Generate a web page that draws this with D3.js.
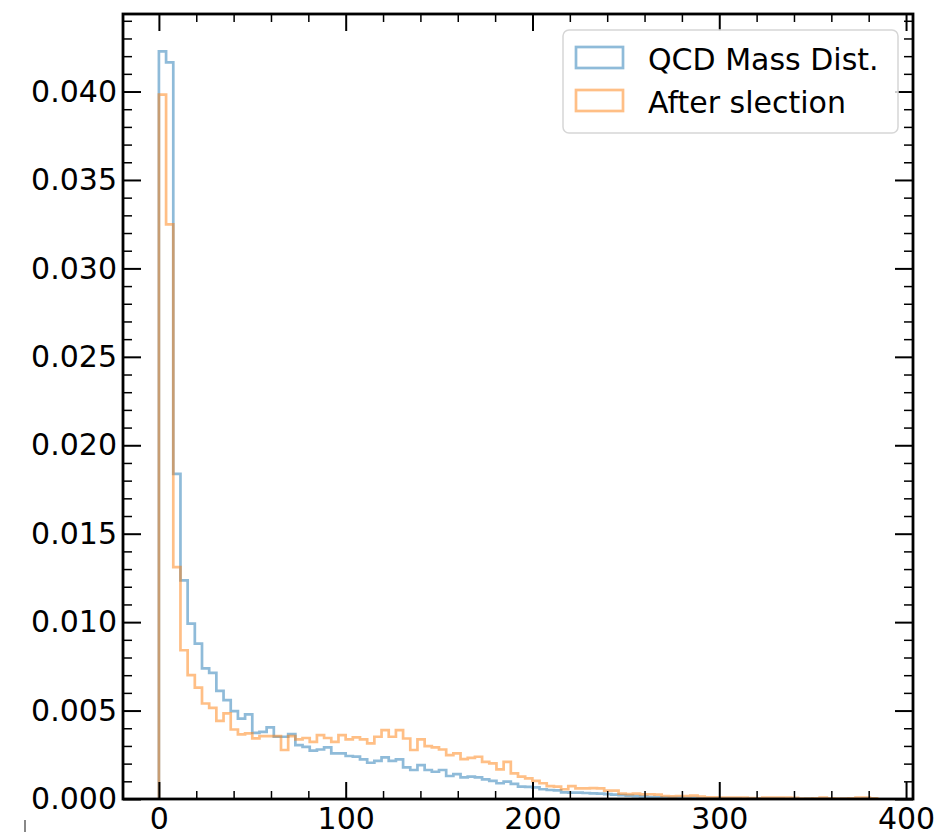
<!DOCTYPE html>
<html>
<head>
<meta charset="utf-8">
<script src="https://cdn.jsdelivr.net/npm/d3@7"></script>
<style>
  body { margin: 0; background: #fff; }
  svg { display: block; }
  text { font-family: "DejaVu Sans", sans-serif; }
</style>
</head>
<body>
<svg id="chart" width="943" height="832"></svg>
<script>
// histogram binning (100 bins over the mass range)
const massRange = [0, 384.5];
const nBins = 100;

const seriesNames = ["QCD Mass Dist.", "After slection"];
const seriesColors = ["#1f77b4", "#ff7f0e"];

// density per bin
const qcdMass = [
  0.04227, 0.04165, 0.01838, 0.01236, 0.00991, 0.00879, 0.00738, 0.00713, 0.00611, 0.00559,
  0.00497, 0.00455, 0.00478, 0.00374, 0.00380, 0.00405, 0.00352, 0.00352, 0.00367, 0.00305,
  0.00295, 0.00273, 0.00280, 0.00292, 0.00258, 0.00258, 0.00243, 0.00240, 0.00224, 0.00205,
  0.00216, 0.00235, 0.00216, 0.00224, 0.00179, 0.00164, 0.00192, 0.00164, 0.00154, 0.00164,
  0.00130, 0.00141, 0.00122, 0.00126, 0.00122, 0.00111, 0.00103, 0.00089, 0.00098, 0.00085,
  0.00070, 0.00068, 0.00066, 0.00055, 0.00051, 0.00049, 0.00038, 0.00036, 0.00036, 0.00034,
  0.00032, 0.00030, 0.00028, 0.00025, 0.00022, 0.00019, 0.00016, 0.00013, 0.00011, 0.00009,
  0.00008, 0.00007, 0.00006, 0.00005, 0.00005, 0.00004, 0.00003, 0.00003, 0.00002, 0.00002,
  0.00002, 0.00001, 0.00002, 0.00001, 0.00001, 0.00001, 0.00001, 0.00000, 0.00001, 0.00000,
  0.00001, 0.00000, 0.00001, 0.00000, 0.00000, 0.00001, 0.00000, 0.00000, 0.00001, 0.00000
];

const afterSel = [
  0.03982, 0.03249, 0.01311, 0.00841, 0.00700, 0.00630, 0.00540, 0.00515, 0.00442, 0.00484,
  0.00393, 0.00365, 0.00371, 0.00343, 0.00356, 0.00356, 0.00356, 0.00277, 0.00356, 0.00337,
  0.00345, 0.00323, 0.00361, 0.00345, 0.00323, 0.00361, 0.00337, 0.00348, 0.00337, 0.00314,
  0.00352, 0.00389, 0.00352, 0.00389, 0.00342, 0.00277, 0.00337, 0.00299, 0.00292, 0.00280,
  0.00248, 0.00258, 0.00226, 0.00233, 0.00239, 0.00210, 0.00201, 0.00168, 0.00210, 0.00145,
  0.00126, 0.00117, 0.00103, 0.00089, 0.00073, 0.00070, 0.00055, 0.00073, 0.00060, 0.00060,
  0.00062, 0.00060, 0.00047, 0.00047, 0.00030, 0.00028, 0.00030, 0.00026, 0.00027, 0.00025,
  0.00017, 0.00015, 0.00017, 0.00016, 0.00019, 0.00014, 0.00010, 0.00010, 0.00008, 0.00008,
  0.00008, 0.00008, 0.00005, 0.00003, 0.00008, 0.00008, 0.00008, 0.00008, 0.00006, 0.00002,
  0.00002, 0.00003, 0.00008, 0.00003, 0.00002, 0.00002, 0.00003, 0.00008, 0.00008, 0.00004
];

const xMajorTicks = [0, 100, 200, 300, 400];
const yMajorTicks = [0, 0.005, 0.010, 0.015, 0.020, 0.025, 0.030, 0.035, 0.040];

const width = 943, height = 832;
const margin = { top: 14, right: 30, bottom: 33, left: 123 };
const innerW = width - margin.left - margin.right;
const innerH = height - margin.top - margin.bottom;

const svg = d3.select("#chart");
const g = svg.append("g").attr("transform", `translate(${margin.left},${margin.top})`);

const binW = (massRange[1] - massRange[0]) / nBins;
const edges = d3.range(nBins + 1).map(i => massRange[0] + i * binW);
const span = massRange[1] - massRange[0];

const allVals = qcdMass.concat(afterSel);

const x = d3.scaleLinear()
  .domain([massRange[0] - 0.05 * span, massRange[1] + 0.05 * span])
  .range([0, innerW]);

const y = d3.scaleLinear()
  .domain([0, d3.max(allVals) * 1.05])
  .range([innerH, 0]);

g.append("clipPath").attr("id", "clip")
  .append("rect").attr("width", innerW).attr("height", innerH);

const step = d3.line()
  .x(d => x(d[0]))
  .y(d => y(d[1]))
  .curve(d3.curveStepAfter);

function stepPoints(vals) {
  const pts = [[edges[0], 0]];
  vals.forEach((v, i) => pts.push([edges[i], v]));
  pts.push([edges[nBins], 0]);
  return pts;
}

[qcdMass, afterSel].forEach((vals, i) => {
  g.append("path")
    .datum(stepPoints(vals))
    .attr("clip-path", "url(#clip)")
    .attr("fill", "none")
    .attr("stroke", seriesColors[i])
    .attr("stroke-opacity", 0.5)
    .attr("stroke-width", 2.7)
    .attr("d", step);
});

// ticks, all pointing inwards on all four sides
const xMinor = d3.range(-20, 404, 20).filter(v => v % 100 !== 0 && v >= x.domain()[0]);
const yMinor = d3.range(0, 45).map(v => v / 1000).filter(v => v % 0.005 > 1e-9 && 0.005 - (v % 0.005) > 1e-9);

function styleAxis(sel, w) {
  sel.select(".domain").remove();
  sel.selectAll("line").attr("stroke", "#000").attr("stroke-width", w);
  sel.selectAll("text").attr("font-size", 30).attr("fill", "#000");
}

g.append("g").attr("transform", `translate(0,${innerH})`)
  .call(d3.axisBottom(x).tickValues(xMinor).tickSizeInner(-8).tickSizeOuter(0).tickFormat(""))
  .call(s => styleAxis(s, 1.5));
g.append("g").attr("transform", `translate(0,${innerH})`)
  .call(d3.axisBottom(x).tickValues(xMajorTicks).tickSizeInner(-17).tickSizeOuter(0).tickPadding(9).tickFormat(d3.format("d")))
  .call(s => styleAxis(s, 2));
g.append("g")
  .call(d3.axisTop(x).tickValues(xMinor).tickSizeInner(-8).tickSizeOuter(0).tickFormat(""))
  .call(s => styleAxis(s, 1.5));
g.append("g")
  .call(d3.axisTop(x).tickValues(xMajorTicks).tickSizeInner(-17).tickSizeOuter(0).tickFormat(""))
  .call(s => styleAxis(s, 2));

g.append("g")
  .call(d3.axisLeft(y).tickValues(yMinor).tickSizeInner(-9).tickSizeOuter(0).tickFormat(""))
  .call(s => styleAxis(s, 1.5));
g.append("g")
  .call(d3.axisLeft(y).tickValues(yMajorTicks).tickSizeInner(-18).tickSizeOuter(0).tickPadding(6).tickFormat(d3.format(".3f")))
  .call(s => styleAxis(s, 2));
g.append("g").attr("transform", `translate(${innerW},0)`)
  .call(d3.axisRight(y).tickValues(yMinor).tickSizeInner(-9).tickSizeOuter(0).tickFormat(""))
  .call(s => styleAxis(s, 1.5));
g.append("g").attr("transform", `translate(${innerW},0)`)
  .call(d3.axisRight(y).tickValues(yMajorTicks).tickSizeInner(-18).tickSizeOuter(0).tickFormat(""))
  .call(s => styleAxis(s, 2));

// frame
g.append("rect")
  .attr("width", innerW).attr("height", innerH)
  .attr("fill", "none").attr("stroke", "#000").attr("stroke-width", 2.8);

// legend
const legend = g.append("g").attr("transform", `translate(${563 - margin.left},${30 - margin.top})`);
legend.append("rect")
  .attr("width", 335).attr("height", 103).attr("rx", 6)
  .attr("fill", "#fff").attr("fill-opacity", 0.8)
  .attr("stroke", "#d6d6d6").attr("stroke-width", 1.5);

seriesNames.forEach((name, i) => {
  const row = legend.append("g").attr("transform", `translate(0,${i * 43})`);
  row.append("rect")
    .attr("x", 13).attr("y", 17).attr("width", 47).attr("height", 21)
    .attr("fill", "none")
    .attr("stroke", seriesColors[i]).attr("stroke-opacity", 0.5).attr("stroke-width", 2.7);
  row.append("text")
    .attr("x", 85).attr("y", 39.5)
    .attr("font-size", 30).attr("fill", "#000")
    .text(name);
});

// cropped fragment at the bottom-left edge of the figure
svg.append("line")
  .attr("x1", 25).attr("x2", 25).attr("y1", 820).attr("y2", 832)
  .attr("stroke", "#888").attr("stroke-width", 2);
</script>
</body>
</html>
